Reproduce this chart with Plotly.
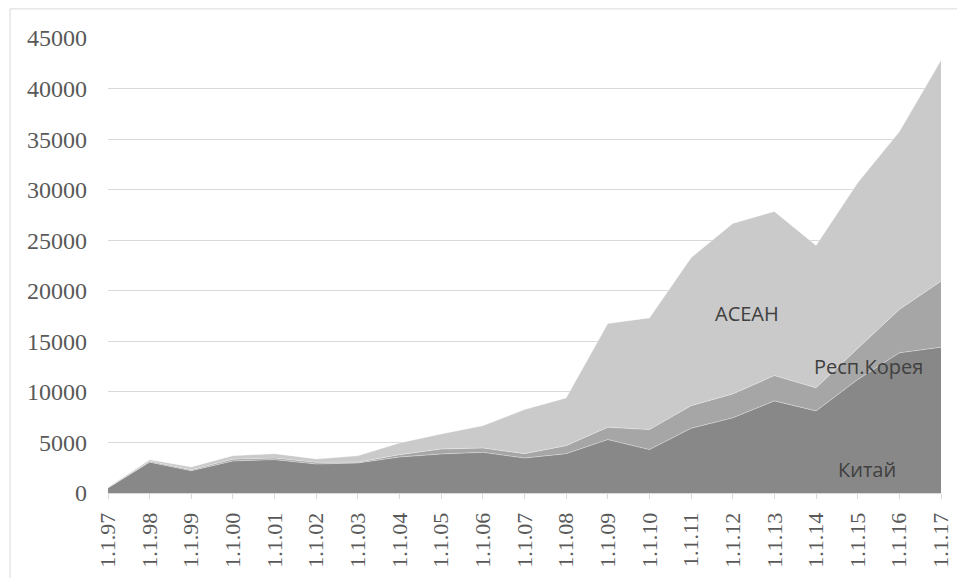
import plotly.graph_objects as go

dates = ["1.1.97", "1.1.98", "1.1.99", "1.1.00", "1.1.01", "1.1.02", "1.1.03",
         "1.1.04", "1.1.05", "1.1.06", "1.1.07", "1.1.08", "1.1.09", "1.1.10",
         "1.1.11", "1.1.12", "1.1.13", "1.1.14", "1.1.15", "1.1.16", "1.1.17"]
china = [500, 3050, 2200, 3170, 3300, 2870, 2970, 3560, 3860, 4020, 3460, 3890,
         5280, 4290, 6400, 7430, 9110, 8120, 11220, 13860, 14420]
korea = [20, 100, 100, 180, 150, 160, 80, 230, 490, 430, 430, 790,
         1220, 1980, 2240, 2370, 2500, 2280, 3080, 4290, 6530]
asean = [40, 150, 270, 340, 440, 330, 640, 1160, 1490, 2210, 4360, 4720,
         10260, 11050, 14630, 16860, 16240, 14080, 16390, 17590, 21850]
y_ticks = [0, 5000, 10000, 15000, 20000, 25000, 30000, 35000, 40000, 45000]
y_tick_text = [str(v) for v in y_ticks]

series = [("Китай", china, "#888888"),
          ("Респ.Корея", korea, "#a6a6a6"),
          ("АСЕАН", asean, "#cacaca")]

fig = go.Figure()
for name, vals, col in series:
    fig.add_trace(go.Scatter(
        x=dates, y=vals, name=name, stackgroup="one", mode="lines",
        line=dict(width=0.75, color="rgba(255,255,255,0.45)"),
        fillcolor=col, hoverinfo="x+y+name"))

lab_font = dict(family="Open Sans, Liberation Sans, sans-serif", size=20, color="#404040")
fig.add_annotation(x=15.34, y=17800, text="АСЕАН", showarrow=False, font=lab_font)
fig.add_annotation(x=18.25, y=12500, text="Респ.Корея", showarrow=False, font=lab_font)
fig.add_annotation(x=18.23, y=2300, text="Китай", showarrow=False, font=lab_font)

fig.add_shape(type="rect", xref="paper", yref="paper",
              x0=-0.1176, x1=1.03, y0=-0.25, y1=1.064,
              line=dict(color="#d9d9d9", width=1), fillcolor="rgba(0,0,0,0)", layer="below")

x_font = dict(family="Liberation Serif, Times New Roman, serif", size=22, color="#595959")
y_font = dict(family="Liberation Serif, Times New Roman, serif", size=24, color="#595959")
fig.update_layout(
    width=957, height=578,
    margin=dict(l=108, r=16, t=38, b=85),
    paper_bgcolor="white", plot_bgcolor="white",
    showlegend=False,
    xaxis=dict(type="category", range=[0, 20], tickangle=-90, tickfont=x_font,
               showgrid=False, showline=True, linecolor="#d9d9d9", linewidth=1,
               ticks="outside", ticklen=5, tickcolor="#d9d9d9", zeroline=False,
               automargin=False, ticklabelstandoff=5),
    yaxis=dict(range=[0, 45000], tickvals=y_ticks, ticktext=y_tick_text, tickfont=y_font,
               showgrid=True, gridcolor="#d9d9d9", gridwidth=1, zeroline=False,
               showline=False, ticks="", ticklabelstandoff=20, automargin=False),
)

fig.write_html("out.html", config={"displayModeBar": False},
               post_script="document.body.style.margin='0';")
